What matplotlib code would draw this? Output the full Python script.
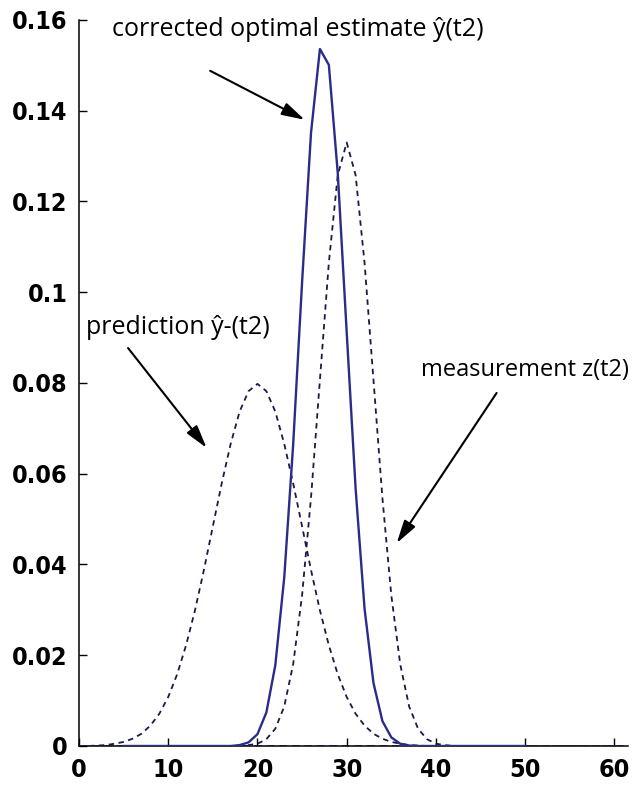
import matplotlib
matplotlib.use("Agg")
import matplotlib.pyplot as plt
import numpy as np

# ---- data ----
x_dash = list(range(0, 62))
prediction = [0.0000, 0.0000, 0.0001, 0.0002, 0.0005, 0.0009, 0.0016, 0.0027, 0.0045, 0.0071,
              0.0108, 0.0158, 0.0222, 0.0299, 0.0388, 0.0484, 0.0579, 0.0666, 0.0737, 0.0782,
              0.0798, 0.0782, 0.0737, 0.0666, 0.0579, 0.0484, 0.0388, 0.0299, 0.0222, 0.0158,
              0.0108, 0.0071, 0.0045, 0.0027, 0.0016, 0.0009, 0.0005, 0.0002, 0.0001, 0.0000,
              0.0000, 0.0000, 0.0000, 0.0000, 0.0000, 0.0000, 0.0000, 0.0000, 0.0000, 0.0000,
              0.0000, 0.0000, 0.0000, 0.0000, 0.0000, 0.0000, 0.0000, 0.0000, 0.0000, 0.0000,
              0.0000, 0.0000]
measurement = [0.0000] * 18 + [0.0000, 0.0002, 0.0005, 0.0015, 0.0038, 0.0087, 0.0180, 0.0332,
               0.0547, 0.0807, 0.1065, 0.1258, 0.1330, 0.1258, 0.1065, 0.0807, 0.0547, 0.0332,
               0.0180, 0.0087, 0.0038, 0.0015, 0.0005, 0.0002, 0.0000] + [0.0000] * 19
x_corr = list(range(5, 51))
corrected = [0.0000] * 13 + [0.0002, 0.0008, 0.0026, 0.0074, 0.0178, 0.0371, 0.0664, 0.1022,
             0.1351, 0.1536, 0.1501, 0.1262, 0.0912, 0.0567, 0.0303, 0.0139, 0.0055, 0.0019,
             0.0005, 0.0001] + [0.0000] * 13

x_ticks = [0, 10, 20, 30, 40, 50, 60]
y_ticks = [0, 0.02, 0.04, 0.06, 0.08, 0.1, 0.12, 0.14, 0.16]
y_ticklabels = ["0", "0.02", "0.04", "0.06", "0.08", "0.1", "0.12", "0.14", "0.16"]

label_corr = "corrected optimal estimate \u0177(t2)"
label_pred = "prediction \u0177-(t2)"
label_meas = "measurement z(t2)"

# ---- figure ----
fig = plt.figure(figsize=(6.38, 7.89), dpi=100)
ax = fig.add_axes([0.1238, 0.0545, 0.984 - 0.1238, 0.9747 - 0.0545])

dash_col = "#1a1a48"
ax.plot(x_dash, prediction, color=dash_col, lw=1.3, ls=(0, (3, 2.5)), zorder=3)
ax.plot(x_dash, measurement, color=dash_col, lw=1.3, ls=(0, (3, 2.5)), zorder=3)
ax.plot(x_dash, [0.0] * len(x_dash), color="#2a2ac0", lw=1.8, ls=(0, (3, 2)), zorder=2)
ax.plot(x_corr, corrected, color="#2b2b8a", lw=1.7, zorder=4)

ax.set_xlim(0, 61.5)
ax.set_ylim(0, 0.16)

for s in ["top", "right"]:
    ax.spines[s].set_visible(False)
for s in ["left", "bottom"]:
    ax.spines[s].set_linewidth(1.1)
    ax.spines[s].set_color("black")

tick_font = dict(family="DejaVu Sans", weight="bold", stretch="condensed", size=18)
ax.set_xticks(x_ticks)
ax.set_xticklabels([str(v) for v in x_ticks], fontdict=tick_font)
ax.set_yticks(y_ticks)
ax.set_yticklabels(y_ticklabels, fontdict=tick_font)
ax.tick_params(axis="both", direction="in", length=6, width=1.0, colors="black")
ax.tick_params(axis="x", pad=9)
ax.tick_params(axis="y", pad=8)

arrow = dict(arrowstyle="-|>,head_length=1.0,head_width=0.28", color="black", lw=1.5,
             mutation_scale=14, shrinkA=0, shrinkB=0)

ax.text(3.7, 0.1578, label_corr, ha="left", va="center", family="Open Sans", size=18, color="black")
ax.annotate("", xy=(25.3, 0.1380), xytext=(14.7, 0.1488), arrowprops=arrow)

ax.text(0.8, 0.0923, label_pred, ha="left", va="center", family="Open Sans", size=18, color="black")
ax.annotate("", xy=(14.3, 0.0657), xytext=(5.5, 0.0877), arrowprops=arrow)

ax.text(38.3, 0.0829, label_meas, ha="left", va="center", family="Open Sans", size=17, color="black")
ax.annotate("", xy=(35.6, 0.0447), xytext=(46.8, 0.0778), arrowprops=arrow)

fig.savefig("out.png", dpi=100, facecolor="white")
